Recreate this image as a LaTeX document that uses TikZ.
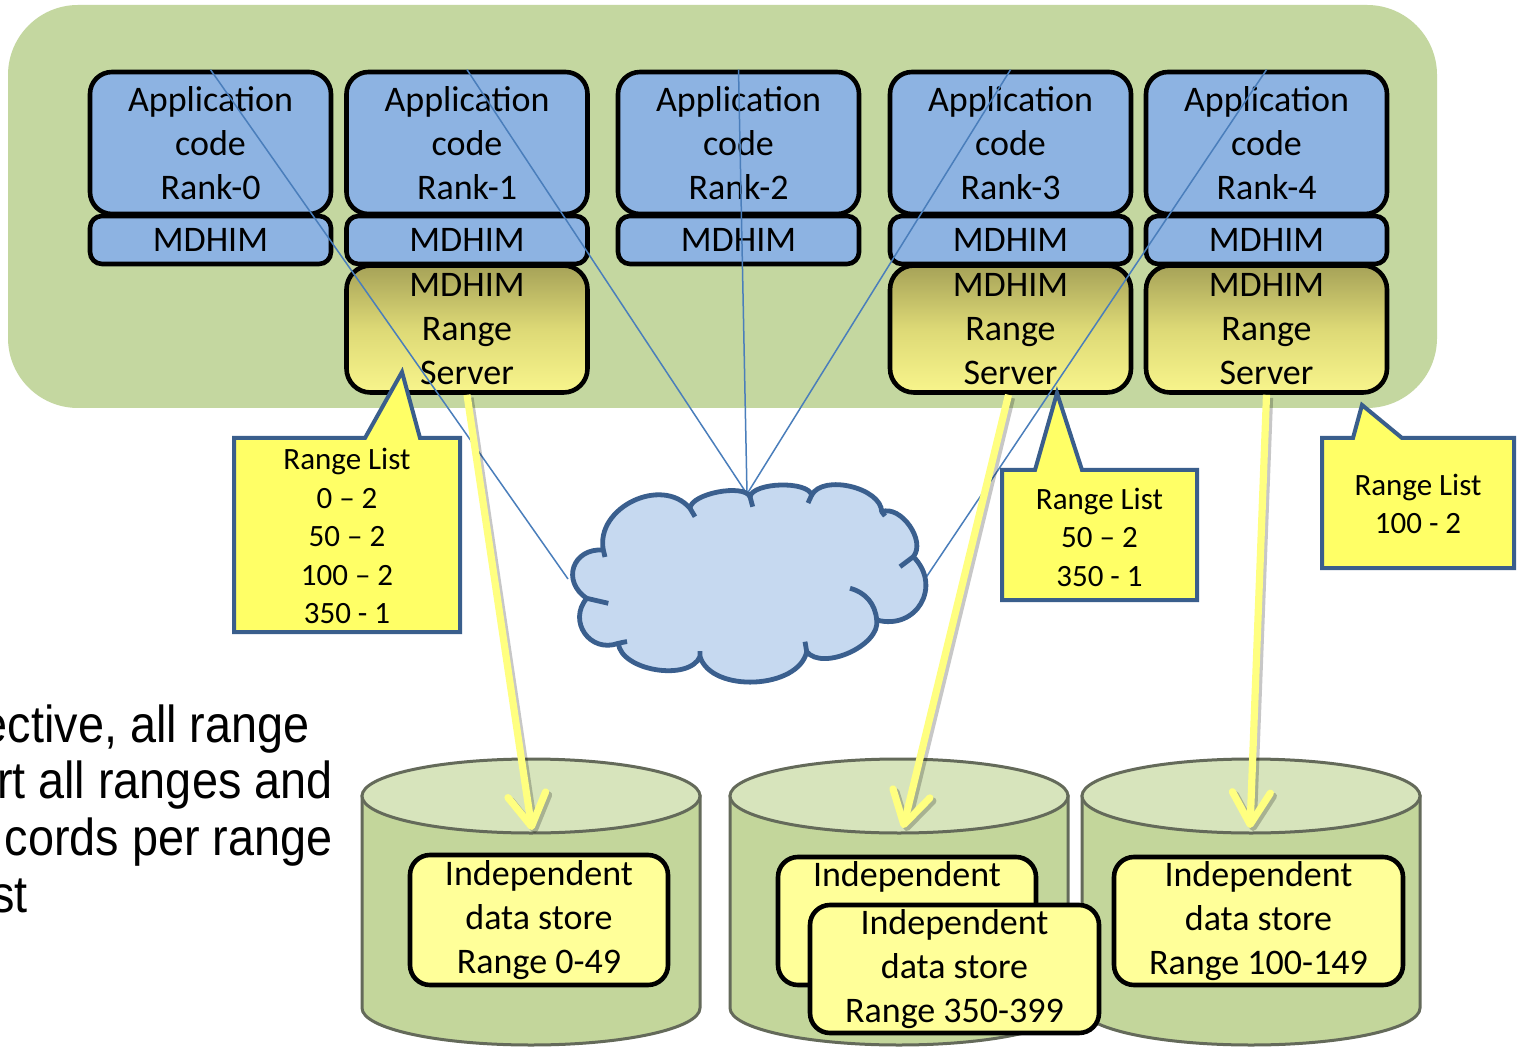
\documentclass[tikz,border=0pt]{standalone}
\usepackage{fontspec}
\setmainfont{Carlito}
\newfontfamily\notefont[FakeStretch=0.9]{Liberation Sans}
\usetikzlibrary{arrows.meta,calc}

\definecolor{panelgreen}{RGB}{196,215,160}
\definecolor{appblue}{RGB}{141,179,226}
\definecolor{rstop}{RGB}{166,162,88}
\definecolor{rsmid}{RGB}{221,217,118}
\definecolor{rsbot}{RGB}{248,245,140}
\definecolor{calloutfill}{RGB}{255,255,102}
\definecolor{calloutedge}{RGB}{58,94,140}
\definecolor{cloudfill}{RGB}{198,217,240}
\definecolor{cloudedge}{RGB}{58,95,142}
\definecolor{netline}{RGB}{74,126,187}
\definecolor{flowyellow}{RGB}{255,255,128}
\definecolor{cylbody}{RGB}{195,214,155}
\definecolor{cyltop}{RGB}{215,228,188}
\definecolor{cyledge}{RGB}{100,106,90}
\definecolor{storefill}{RGB}{255,255,153}

\tikzset{
  appbox/.style={draw=black, line width=2.3pt, fill=appblue, rounded corners=11pt,
    minimum width=120.5pt, minimum height=71pt, inner sep=0pt, align=center,
    font=\fontsize{18}{22}\selectfont},
  mdhimbox/.style={appbox, rounded corners=6pt, minimum height=24pt},
  serverbox/.style={appbox, rounded corners=12pt, minimum height=63.5pt,
    top color=rstop, bottom color=rsbot, middle color=rsmid},
  storebox/.style={draw=black, line width=2.3pt, fill=storefill, rounded corners=10pt,
    minimum width=129pt, minimum height=65pt, inner sep=0pt, align=center,
    font=\fontsize{18}{22}\selectfont},
  listtext/.style={inner sep=0pt, align=center, font=\fontsize{15.5}{19.25}\selectfont},
  calloutline/.style={draw=calloutedge, line width=2pt, fill=calloutfill, line join=miter},
  netlink/.style={draw=netline, line width=0.75pt},
  cloudline/.style={draw=cloudedge, line width=2.4pt},
  puff/.style={bend left=75, looseness=#1},
  flowtip/.style={-{Straight Barb[length=16pt,width=19pt,round]}},
  flow/.style={draw=flowyellow, line width=3.6pt, flowtip},
  flowshade/.style={draw=black, line width=3.6pt, flowtip},
  drumside/.style={fill=cylbody, draw=cyledge, line width=1.5pt},
  drumtop/.style={fill=cyltop, draw=cyledge, line width=1.5pt},
  notetext/.style={inner sep=0pt, anchor=base east, font=\notefont\fontsize{26}{28}\selectfont}
}

\begin{document}
\begin{tikzpicture}[x=0.5pt,y=-0.5pt]
% canvas
\fill[white] (0,0) rectangle (1519,1047);
\useasboundingbox (0,0) rectangle (1519,1047);

% cluster panel
\fill[panelgreen, rounded corners=35pt] (8,5) rectangle (1437,408);

% explanatory text on the left
\node[notetext] (note1) at (310,742) {ective, all range};
\node[notetext] (note2) at (333,798) {rt all ranges and};
\node[notetext] (note3) at (333,855) {cords per range};
\node[notetext] (note4) at (28,912) {st};

% data store drums
\foreach \cx in {531,899,1251} {
  \filldraw[drumside] (\cx-169,796) -- (\cx-169,1008)
     arc[start angle=180, end angle=0, x radius=169, y radius=37] -- (\cx+169,796) -- cycle;
  \filldraw[drumtop] (\cx,796) ellipse [x radius=169, y radius=37];
}

% independent data stores
\node[storebox] (ds1) at (539,920) {Independent\\data store\\Range 0-49};
\node[storebox, minimum height=64pt] (ds2a) at (907,921) {Independent\\\phantom{data store}\\\phantom{Range}};
\node[storebox, minimum width=144.5pt, minimum height=64pt] (ds2b) at (954.5,969) {Independent\\data store\\Range 350-399};
\node[storebox, minimum width=144.5pt, minimum height=64pt] (ds3) at (1258.5,921) {Independent\\data store\\Range 100-149};

% application ranks
\node[appbox] (app0) at (210.5,143) {Application\\code\\Rank-0};
\node[appbox] (app1) at (467,143) {Application\\code\\Rank-1};
\node[appbox] (app2) at (738.5,143) {Application\\code\\Rank-2};
\node[appbox] (app3) at (1010.5,143) {Application\\code\\Rank-3};
\node[appbox] (app4) at (1266.5,143) {Application\\code\\Rank-4};

\node[mdhimbox] (md0) at (210.5,240) {MDHIM};
\node[mdhimbox] (md1) at (467,240) {MDHIM};
\node[mdhimbox] (md2) at (738.5,240) {MDHIM};
\node[mdhimbox] (md3) at (1010.5,240) {MDHIM};
\node[mdhimbox] (md4) at (1266.5,240) {MDHIM};

\node[serverbox] (rs1) at (467,329) {MDHIM\\Range\\Server};
\node[serverbox] (rs3) at (1010.5,329) {MDHIM\\Range\\Server};
\node[serverbox] (rs4) at (1266.5,329) {MDHIM\\Range\\Server};

% network attachment points
\coordinate (cW) at (568,579);
\coordinate (cN) at (747,494);
\coordinate (cE) at (925,579);

\draw[netlink] (app0.north) -- (cW);
\draw[netlink] (app1.north) -- (cN);
\draw[netlink] (app2.north) -- (cN);
\draw[netlink] (app3.north) -- (cN);
\draw[netlink] (app4.north) -- (cE);

% range list callouts
\path[calloutline] (234,438) -- (365,438) -- (402,372) -- (420,438) -- (460,438)
   -- (460,632) -- (234,632) -- cycle;
\node[listtext] (rl1) at (347,536) {Range List\\0 – 2\\50 – 2\\100 – 2\\350 - 1};

\path[calloutline] (1002,470) -- (1035,470) -- (1057,393) -- (1082,470) -- (1197,470)
   -- (1197,600) -- (1002,600) -- cycle;
\node[listtext] (rl2) at (1099.5,537) {Range List\\50 – 2\\350 - 1};

\path[calloutline] (1322,438) -- (1353,438) -- (1362,405) -- (1402,438) -- (1514,438)
   -- (1514,568) -- (1322,568) -- cycle;
\node[listtext] (rl3) at (1418,504) {Range List\\100 - 2};

% interconnect cloud
\coordinate (cloud) at (746,583);
\filldraw[cloudline, fill=cloudfill, line join=round]
  (586.7,598.3) to[puff=1.55] (603.3,550) to[puff=1.15] (690,508.3)
  to[puff=0.62] (750,496.7) to[puff=0.62] (811.7,495) to[puff=0.85] (881.7,511.7)
  to[puff=0.95] (913.3,556.7) to[puff=1.45] (876.7,620) to[puff=0.85] (806.7,651.7)
  to[puff=0.92] (700,656.7) to[puff=0.85] (618.3,643.3) to[puff=1.4] (586.7,598.3) -- cycle;
\draw[cloudline]
  (586.7,598.3) -- (608.3,603.3)
  (603.3,550) -- (605,557)
  (690,508.3) -- (695,516.7)
  (750,496.7) -- (752.7,506.7)
  (811.7,495) -- (808,503)
  (881.7,511.7) -- (885,516)
  (913.3,556.7) -- (900,566.7)
  (850,588.3) to[bend left=35] (876.7,620)
  (806.7,651.7) -- (805,641.7)
  (700,656.7) -- (700,651)
  (618.3,643.3) -- (627,641.5);

% data flow from range servers to their stores
\coordinate (tip1) at (532,830);
\coordinate (tip2) at (903,828);
\coordinate (tip3) at (1250,828);
\begin{scope}[transparency group, opacity=0.22]
  \draw[flowshade] ($(rs1.south)+(3,3)$) -- ($(tip1)+(3,3)$);
  \draw[flowshade] ($(rs3.south)+(1,3)$) -- ($(tip2)+(3,3)$);
  \draw[flowshade] ($(rs4.south)+(3,3)$) -- ($(tip3)+(3,3)$);
\end{scope}
\draw[flow] (rs1.south) -- (tip1);
\draw[flow] ($(rs3.south)+(-2,0)$) -- (tip2);
\draw[flow] (rs4.south) -- (tip3);
\end{tikzpicture}
\end{document}
